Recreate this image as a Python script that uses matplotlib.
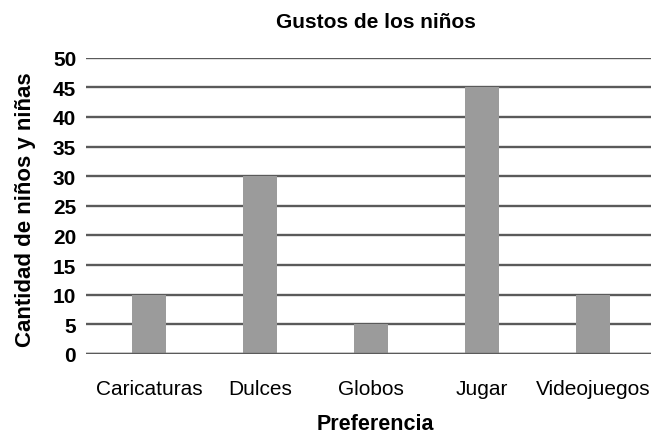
import matplotlib
import matplotlib.pyplot as plt

matplotlib.use("Agg")

# datos del gráfico
categorias = ["Caricaturas", "Dulces", "Globos", "Jugar", "Videojuegos"]
cantidades = [10, 30, 5, 45, 10]
y_ticks = list(range(0, 55, 5))

plt.rcParams["font.family"] = ["Liberation Sans", "DejaVu Sans"]

fig = plt.figure(figsize=(6.51, 4.35), dpi=100)
ax = fig.add_axes([0.132, 0.184, 0.868, 0.681])

x = list(range(len(categorias)))
ax.bar(x, cantidades, width=0.31, color="#9b9b9b", zorder=3)

ax.set_ylim(0, 50)
ax.set_xlim(-0.57, 4.52)
ax.set_yticks(y_ticks)
ax.set_yticklabels([str(v) for v in y_ticks], fontsize=15, fontweight="bold")
ax.set_xticks(x)
ax.set_xticklabels(categorias, fontsize=15)
ax.tick_params(axis="both", length=0)
ax.tick_params(axis="y", pad=7)
ax.tick_params(axis="x", pad=18)

ax.grid(axis="y", color="#5a5a5a", lw=1.7, zorder=1)
ax.axhline(0, color="#5a5a5a", lw=1.7, zorder=4)
for s in ax.spines.values():
    s.set_visible(False)

ax.set_title("Gustos de los niños", fontsize=15, fontweight="bold", pad=22, x=0.513)
ax.set_xlabel("Preferencia", fontsize=15.5, fontweight="bold")
ax.set_ylabel("Cantidad de niños y niñas", fontsize=16, fontweight="bold")
ax.yaxis.set_label_coords(-0.088, 0.49)
ax.xaxis.set_label_coords(0.513, -0.2)

fig.savefig("out.png", dpi=100)
